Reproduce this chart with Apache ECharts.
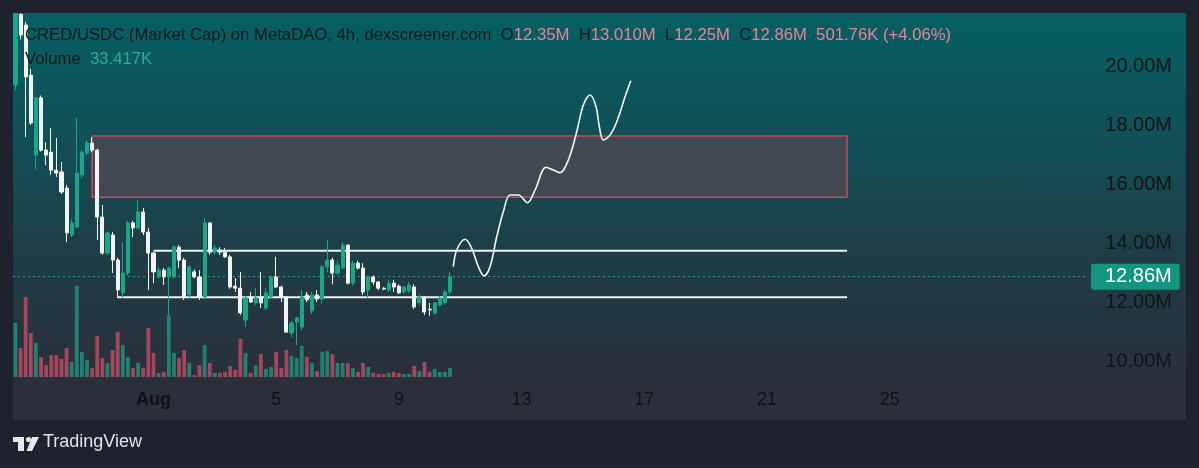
<!DOCTYPE html>
<html><head><meta charset="utf-8">
<script src="https://cdn.jsdelivr.net/npm/echarts@6/dist/echarts.min.js"></script>
<style>
html,body{margin:0;padding:0;background:#1e222d;}
#wrap{position:relative;width:1199px;height:468px;overflow:hidden;}
#panel{position:absolute;left:13px;top:13px;width:1173px;height:367px;background:linear-gradient(to bottom,#065f62 0%,#114f56 35%,#1e3d46 65%,#2a2f3a 100%);}
#strip{position:absolute;left:13px;top:380px;width:1173px;height:40px;background:#2b2f3a;}
#c{position:absolute;left:0;top:0;width:1199px;height:468px;}
</style>
</head><body><div id="wrap"><div id="panel"></div><div id="strip"></div><div id="c"></div></div>
<script>
// ---- data (values in millions, volume in K) ----
const firstCandleDay = -4.5;          // Jul 27 12:00 relative to Aug 1 00:00
const candleStepDay = 1 / 6;          // 4h candles
const candleOpen  = [19.36,21.75,21.39,19.69,16.98,18.92,17.15,17.08,16.47,16.41,15.86,14.27,14.54,16.31,17.05,17.39,17.15,14.88,13.66,14.27,13.42,12.31,12.98,14.68,14.51,15.05,14.37,13.66,12.85,13.08,12.85,12.85,13.86,13.42,12.24,13.02,12.85,12.17,14.68,13.69,13.76,13.69,13.53,12.54,12.47,11.39,12.17,11.97,12.17,11.8,12.17,12.85,12.51,12.17,10.95,11.32,11.15,12.24,11.7,12.24,12.1,13.19,13.42,12.98,13.15,13.93,12.64,13.32,13.15,12.41,12.85,12.68,12.47,12.41,12.64,12.54,12.34,12.37,12.51,11.97,12.14,11.76,11.63,11.9,11.97,12.35];
const candleClose = [21.78,21.05,19.63,18.07,18.92,17.15,16.98,16.47,16.37,15.73,14.34,14.68,16.37,17.08,17.39,17.15,14.88,13.66,14.34,13.42,12.41,12.98,14.68,14.51,15.05,14.37,13.66,13.02,13.08,12.85,13.15,13.86,13.42,12.17,13.19,12.85,12.17,14.68,13.69,13.83,13.69,13.53,12.51,12.47,11.63,12.14,12.0,12.14,11.97,12.31,12.85,12.51,12.17,10.98,11.29,11.46,12.17,12.07,12.24,12.1,13.19,13.42,12.98,13.25,13.93,12.64,13.32,13.15,12.34,12.85,12.68,12.47,12.44,12.64,12.51,12.31,12.51,12.58,11.83,12.17,11.66,11.73,11.97,12.14,12.34,12.86];
const candleLow   = [19.2,20.9,17.59,18.0,16.5,17.1,16.64,16.31,16.24,15.66,14.03,14.2,14.5,16.2,16.98,17.08,14.1,13.6,13.6,12.98,12.14,12.14,12.9,14.2,14.45,14.27,12.41,12.64,12.8,12.58,11.56,12.8,13.15,12.07,12.1,12.8,12.07,12.1,13.6,13.6,13.59,13.49,12.45,12.34,11.56,11.15,11.97,11.9,11.8,11.73,12.1,12.47,12.0,10.95,10.81,10.54,11.05,12.0,11.6,12.0,11.95,13.0,12.6,12.9,13.1,12.6,12.55,13.1,12.24,12.14,12.58,12.4,12.4,12.34,12.34,12.27,12.27,12.3,11.76,11.9,11.56,11.53,11.56,11.85,11.9,12.25];
const candleHigh  = [21.79,21.79,21.5,19.9,18.95,19.0,17.42,17.9,17.56,16.75,15.97,14.8,18.24,17.15,17.5,17.59,17.2,15.29,14.4,14.37,13.5,14.03,14.75,14.75,15.46,15.19,14.51,13.7,13.2,13.15,13.2,13.93,13.93,13.5,13.25,13.1,13.08,14.85,14.7,13.93,13.86,13.83,13.6,12.81,13.02,12.2,12.34,12.47,13.02,12.47,12.9,13.53,12.55,12.2,11.35,11.5,12.41,12.34,12.34,12.41,13.25,14.1,13.5,13.4,14.03,13.95,13.4,13.4,13.32,12.9,12.9,12.7,12.5,12.75,12.75,12.6,12.55,12.68,12.6,12.27,12.2,11.97,12.0,12.2,12.41,13.01];
const volumeK     = [200,107,296,163,126,74,44,81,81,67,107,56,337,93,63,33,152,70,52,100,167,118,74,33,52,33,181,89,15,19,229,89,70,100,52,7,44,118,52,15,15,19,40,26,141,89,15,44,85,30,37,93,33,100,78,70,115,74,52,22,93,96,85,52,52,52,33,19,52,37,15,11,11,15,19,15,11,11,41,22,56,19,30,19,19,33.4];

// drawn levels
const zoneDays   = [-2.0, 22.61];
const zoneValues = [15.55, 17.63];
const resistanceDays = [0, 22.61];
const resistanceValue = 13.74;
const supportDays = [-1.17, 22.61];
const supportValue = 12.16;

// freehand projection
const projDays   = [9.775,9.886,10.157,10.375,10.59,10.776,10.972,11.19,11.405,11.624,11.894,12.188,12.439,12.798,13.036,13.254,13.525,13.798,14.014,14.232,14.428,14.535,14.666,14.884,15.103,15.373,15.559];
const projValues = [13.197,13.763,14.125,13.82,13.197,12.881,13.197,14.214,15.061,15.627,15.627,15.366,15.797,16.566,16.475,16.383,16.814,17.773,18.678,19.017,18.62,17.942,17.492,17.661,18.112,18.959,19.502];

// ticks
const xTickDays   = [0, 4, 8, 12, 16, 20, 24];
const xTickLabels = ['Aug', '5', '9', '13', '17', '21', '25'];
const yTickValues = [10, 12, 14, 16, 18, 20];
const lastPrice = 12.86;
const headerText = 'CRED/USDC (Market Cap) on MetaDAO, 4h, dexscreener.com';
const headerOHLC = [['O','12.35M'],['H','13.010M'],['L','12.25M'],['C','12.86M']];
const headerChange = '501.76K (+4.06%)';
const volumeLabel = '33.417K';

// ---- chart ----
const FONT = '"Liberation Sans", Arial, sans-serif';
const UP = '#19a689', DOWN = '#f2f4f4';
const VOL_UP = '#21806f', VOL_DOWN = '#a4475c';
const DARK = '#0c1a20', PINK = '#e8829a';

const candleData = candleOpen.map((o, i) => [firstCandleDay + i * candleStepDay, o, candleClose[i], candleLow[i], candleHigh[i]]);
const volumeData = volumeK.map((v, i) => ({
  value: [firstCandleDay + i * candleStepDay, v],
  itemStyle: { color: candleClose[i] >= candleOpen[i] ? VOL_UP : VOL_DOWN }
}));

let headerRich = '{d|' + headerText + '}';
headerOHLC.forEach(p => { headerRich += '{d|  ' + p[0] + '}{p|' + p[1] + '}'; });
headerRich += '{p|  ' + headerChange + '}';

const txt = (color) => ({ color: color, fontSize: 16.7, fontFamily: FONT, fontWeight: 'normal' });

const chart = echarts.init(document.getElementById('c'), null, { renderer: 'canvas' });
chart.setOption({
  animation: false,
  backgroundColor: 'transparent',
  textStyle: { fontFamily: FONT },
  title: [
    { text: headerRich, left: 20, top: 22,
      textStyle: { fontWeight: 'normal', rich: { d: txt(DARK), p: txt(PINK) } } },
    { text: '{d|Volume}{v|  ' + volumeLabel + '}', left: 20, top: 46,
      textStyle: { fontWeight: 'normal', rich: { d: txt(DARK), v: txt('#36a896') } } }
  ],
  grid: { left: 13, right: 113, top: 13, bottom: 91, containLabel: false },
  xAxis: {
    type: 'value', min: -4.58, max: 30.40,
    axisLine: { show: false }, axisTick: { show: false }, splitLine: { show: false },
    axisLabel: {
      customValues: xTickDays, margin: 14, color: '#0d1116', fontSize: 18, fontFamily: FONT,
      formatter: v => { const k = xTickDays.indexOf(Math.round(v)); const t = k >= 0 ? xTickLabels[k] : ''; return k === 0 ? '{b|' + t + '}' : t; },
      rich: { b: { fontWeight: 'bold', fontSize: 18, color: '#0d1116', fontFamily: FONT } }
    }
  },
  yAxis: [
    { type: 'value', position: 'right', min: 9.458, max: 21.797, scale: true,
      axisLine: { show: false }, axisTick: { show: false }, splitLine: { show: false },
      axisLabel: { customValues: yTickValues, align: 'right', margin: 86, color: '#0f1419', fontSize: 20, fontFamily: FONT,
        formatter: v => v.toFixed(2) + 'M' } },
    { type: 'value', min: 0, max: 1347, show: false }
  ],
  graphic: [
    { type: 'rect', left: 13, top: 437, shape: { width: 11, height: 5 }, style: { fill: '#e6e8ee' } },
    { type: 'rect', left: 18, top: 437, shape: { width: 6, height: 14 }, style: { fill: '#e6e8ee' } },
    { type: 'circle', shape: { cx: 28.5, cy: 439.5, r: 2.6 }, style: { fill: '#e6e8ee' } },
    { type: 'polygon', shape: { points: [[32, 437], [39, 437], [32, 451], [26.5, 451]] }, style: { fill: '#e6e8ee' } },
    { type: 'text', left: 43, top: 433, style: { text: 'TradingView', fill: '#e0e3eb', fontSize: 18, fontFamily: FONT } }
  ],
  series: [
    { name: 'zone', type: 'line', z: 1, symbol: 'none', silent: true,
      data: [[zoneDays[0], zoneValues[0]]], lineStyle: { opacity: 0 },
      markArea: { silent: true,
        itemStyle: { color: 'rgba(72,72,80,0.88)', borderColor: '#c9475f', borderWidth: 1.5 },
        data: [[{ coord: [zoneDays[0], zoneValues[1]] }, { coord: [zoneDays[1], zoneValues[0]] }]] } },
    { name: 'volume', type: 'bar', xAxisIndex: 0, yAxisIndex: 1, barWidth: 3.8, z: 2, data: volumeData },
    { name: 'resistance', type: 'line', z: 3, symbol: 'none', silent: true,
      data: resistanceDays.map(d => [d, resistanceValue]), lineStyle: { color: '#eef3f3', width: 2 } },
    { name: 'support', type: 'line', z: 3, symbol: 'none', silent: true,
      data: supportDays.map(d => [d, supportValue]), lineStyle: { color: '#eef3f3', width: 2 } },
    { name: 'price', type: 'candlestick', z: 5, barWidth: 3.6, clip: true,
      dimensions: ['t', 'open', 'close', 'lowest', 'highest'],
      encode: { x: 't', y: ['open', 'close', 'lowest', 'highest'] },
      data: candleData,
      itemStyle: { color: UP, color0: DOWN, borderColor: UP, borderColor0: DOWN, borderWidth: 1 },
      markLine: { silent: true, symbol: 'none',
        lineStyle: { color: '#2f9f8f', type: [2, 3], width: 1 },
        label: { position: 'end', distance: 5, formatter: lastPrice.toFixed(2) + 'M', color: '#ffffff', fontSize: 20, fontFamily: FONT,
          backgroundColor: '#12967f', padding: [3, 8, 3, 14], borderRadius: 2 },
        data: [{ yAxis: lastPrice }] } },
    { name: 'projection', type: 'line', z: 6, symbol: 'none', smooth: 0.35, silent: true,
      data: projDays.map((d, i) => [d, projValues[i]]), lineStyle: { color: '#f4f7f7', width: 1.6 } }
  ]
});
</script>
</body></html>
